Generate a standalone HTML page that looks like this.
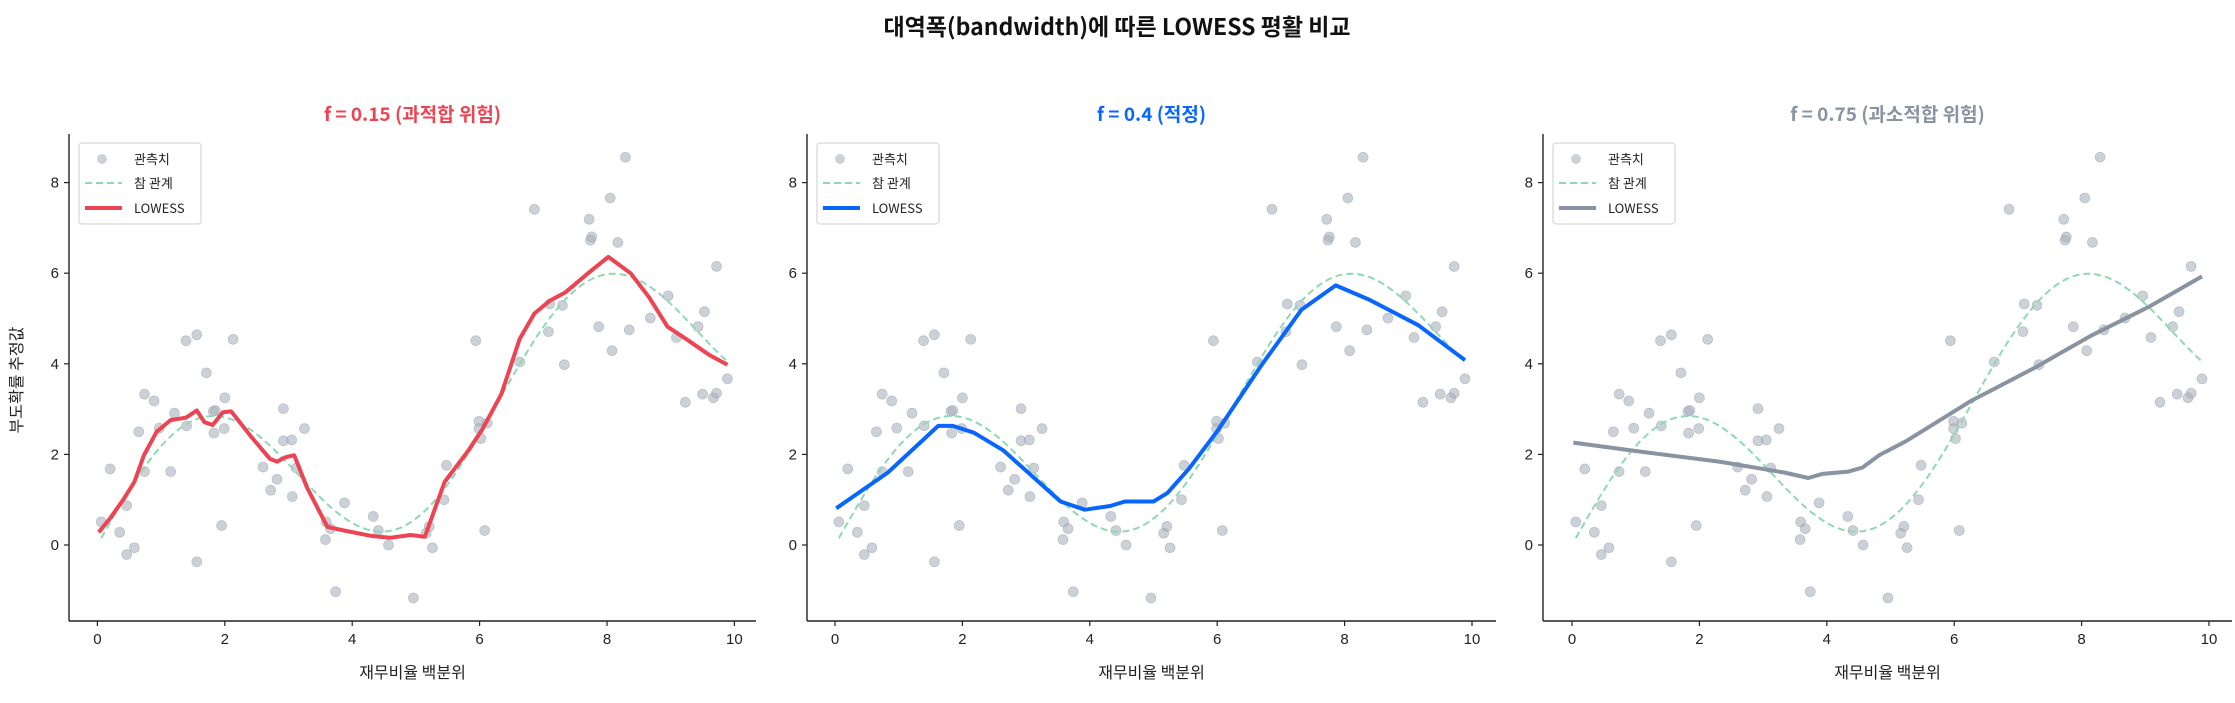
<!DOCTYPE html>
<html><head><meta charset="utf-8">
<style>
html,body{margin:0;padding:0;background:#fff;}
svg text{font-family:"Liberation Sans","Noto Sans CJK KR",sans-serif;}
</style></head>
<body>
<svg id="s" xmlns="http://www.w3.org/2000/svg" width="2235" height="698" viewBox="0 0 2235 698">
<rect width="2235" height="698" fill="#fff"/>
<text x="1117" y="35" text-anchor="middle" font-size="23" font-weight="bold" fill="#111" style="font-family:'Noto Sans CJK KR',sans-serif">대역폭(bandwidth)에 따른 LOWESS 평활 비교</text>
<text transform="translate(22,380) rotate(-90)" text-anchor="middle" font-size="16" fill="#222" style="font-family:'Noto Sans CJK KR',sans-serif">부도확률 추정값</text>
</svg>
<script>
var svg=document.getElementById('s');var NS='http://www.w3.org/2000/svg';
function el(t,a,txt){var e=document.createElementNS(NS,t);for(var k in a)e.setAttribute(k,a[k]);if(txt!==undefined)e.textContent=txt;svg.appendChild(e);return e;}
var pts=[[0.06,0.51],[0.20,1.68],[0.35,0.28],[0.46,-0.21],[0.46,0.87],[0.58,-0.06],[0.65,2.50],[0.74,3.33],[0.74,1.62],[0.89,3.18],[0.97,2.58],[1.15,1.62],[1.21,2.91],[1.40,2.63],[1.39,4.51],[1.56,4.64],[1.56,-0.37],[1.71,3.80],[1.82,2.95],[1.85,2.97],[1.83,2.47],[1.95,0.43],[1.99,2.57],[2.0,3.25],[2.13,4.54],[2.60,1.72],[2.72,1.21],[2.82,1.45],[2.92,3.01],[2.92,2.30],[3.05,2.32],[3.06,1.07],[3.25,2.57],[3.12,1.7],[3.58,0.12],[3.59,0.51],[3.66,0.36],[3.74,-1.03],[3.88,0.93],[4.33,0.63],[4.41,0.32],[4.57,0.0],[4.96,-1.17],[5.16,0.26],[5.21,0.41],[5.26,-0.06],[5.44,1.0],[5.48,1.76],[5.94,4.51],[5.99,2.73],[5.99,2.57],[6.02,2.35],[6.12,2.69],[6.08,0.32],[6.63,4.04],[6.86,7.41],[7.08,4.71],[7.10,5.32],[7.30,5.29],[7.33,3.98],[7.72,7.19],[7.74,6.73],[7.76,6.80],[7.87,4.82],[8.05,7.66],[8.08,4.29],[8.17,6.68],[8.29,8.56],[8.35,4.75],[8.68,5.01],[8.96,5.50],[9.09,4.58],[9.23,3.15],[9.43,4.82],[9.50,3.33],[9.53,5.15],[9.67,3.25],[9.72,6.15],[9.72,3.35],[9.89,3.67]];
var L1=[[0.02,0.28],[0.2,0.59],[0.42,1.03],[0.58,1.39],[0.73,1.98],[0.93,2.5],[1.15,2.76],[1.39,2.81],[1.56,2.97],[1.68,2.71],[1.81,2.65],[1.97,2.93],[2.1,2.95],[2.42,2.38],[2.71,1.9],[2.82,1.84],[2.96,1.94],[3.09,1.98],[3.29,1.27],[3.61,0.4],[3.87,0.32],[4.3,0.2],[4.59,0.16],[4.92,0.22],[5.14,0.18],[5.45,1.39],[5.83,2.1],[6.05,2.57],[6.34,3.33],[6.63,4.55],[6.86,5.11],[7.1,5.39],[7.35,5.58],[7.72,6.02],[8.02,6.36],[8.37,6.0],[8.66,5.47],[8.95,4.82],[9.24,4.55],[9.6,4.2],[9.89,3.98]];
var L2=[[0.02,0.81],[0.83,1.6],[1.62,2.63],[1.85,2.63],[2.18,2.48],[2.64,2.09],[3.54,0.96],[3.92,0.78],[4.32,0.86],[4.55,0.96],[5.0,0.96],[5.22,1.15],[5.56,1.69],[6.01,2.53],[6.69,3.96],[7.32,5.19],[7.86,5.73],[8.38,5.42],[9.16,4.85],[9.89,4.08]];
var L3=[[0.02,2.26],[1.19,2.04],[2.31,1.84],[3.33,1.6],[3.71,1.48],[3.93,1.57],[4.34,1.62],[4.56,1.71],[4.83,1.99],[5.24,2.29],[5.69,2.68],[6.25,3.17],[7.26,3.91],[8.16,4.63],[9.06,5.26],[9.89,5.93]];
var panels=[{x0:97.4,sl:69,sr:756,L:L1,c:'#ec4452',t:'f = 0.15 (과적합 위험)'},{x0:835,sl:807,sr:1496,L:L2,c:'#0866ff',t:'f = 0.4 (적정)'},{x0:1572,sl:1543,sr:2232,L:L3,c:'#8a93a2',t:'f = 0.75 (과소적합 위험)'}];
var U=63.7,Y0=545,V=45.3;
panels.forEach(function(p){
 function X(x){return p.x0+U*x;} function Y(y){return Y0-V*y;}
 el('text',{x:(p.sl+p.sr)/2,y:121,'text-anchor':'middle','font-size':19,'font-weight':'bold',fill:p.c,style:"font-family:'Noto Sans CJK KR',sans-serif"},p.t);
 pts.forEach(function(q){el('circle',{cx:X(q[0]),cy:Y(q[1]),r:5,fill:'#aab1bc','fill-opacity':0.6,stroke:'#9aa2ad','stroke-opacity':0.5,'stroke-width':0.8});});
 var d='';for(var i=0;i<=120;i++){var x=0.06+(9.89-0.06)*i/120;var y=0.5*x+2*Math.sin(x);d+=(i?'L':'M')+X(x).toFixed(1)+' '+Y(y).toFixed(1);}
 el('path',{d:d,fill:'none',stroke:'#8dd9b4','stroke-width':2,'stroke-dasharray':'7,4'});
 d='';p.L.forEach(function(q,i){d+=(i?'L':'M')+X(q[0]).toFixed(1)+' '+Y(q[1]).toFixed(1);});
 el('path',{d:d,fill:'none',stroke:p.c,'stroke-width':4,'stroke-linejoin':'round'});
 el('line',{x1:p.sl,y1:134,x2:p.sl,y2:621,stroke:'#222','stroke-width':1.4});
 el('line',{x1:p.sl,y1:621,x2:p.sr,y2:621,stroke:'#222','stroke-width':1.4});
 for(var t=0;t<=10;t+=2){el('line',{x1:X(t),y1:621,x2:X(t),y2:626,stroke:'#222','stroke-width':1.2});el('text',{x:X(t),y:644,'text-anchor':'middle','font-size':15,fill:'#222'},t);}
 for(var t=0;t<=8;t+=2){el('line',{x1:p.sl-5,y1:Y(t),x2:p.sl,y2:Y(t),stroke:'#222','stroke-width':1.2});el('text',{x:p.sl-10,y:Y(t)+5,'text-anchor':'end','font-size':15,fill:'#222'},t);}
 el('text',{x:(p.sl+p.sr)/2,y:678,'text-anchor':'middle','font-size':16,fill:'#222',style:"font-family:'Noto Sans CJK KR',sans-serif"},'재무비율 백분위');
 var lx=p.sl+10;
 el('rect',{x:lx,y:143,width:122,height:81,rx:3,fill:'#fff','fill-opacity':0.85,stroke:'#d6d6d6','stroke-width':1.2});
 el('circle',{cx:lx+23,cy:159,r:5,fill:'#aab1bc','fill-opacity':0.6});
 el('text',{x:lx+55,y:164,'font-size':13,fill:'#222',style:"font-family:'Noto Sans CJK KR',sans-serif"},'관측치');
 el('line',{x1:lx+6,y1:183,x2:lx+43,y2:183,stroke:'#8dd9b4','stroke-width':2,'stroke-dasharray':'7,4'});
 el('text',{x:lx+55,y:188,'font-size':13,fill:'#222',style:"font-family:'Noto Sans CJK KR',sans-serif"},'참 관계');
 el('line',{x1:lx+6,y1:208,x2:lx+43,y2:208,stroke:p.c,'stroke-width':4});
 el('text',{x:lx+55,y:213,'font-size':13,fill:'#222',style:"font-family:'Noto Sans CJK KR',sans-serif"},'LOWESS');
});
</script>
</body></html>
